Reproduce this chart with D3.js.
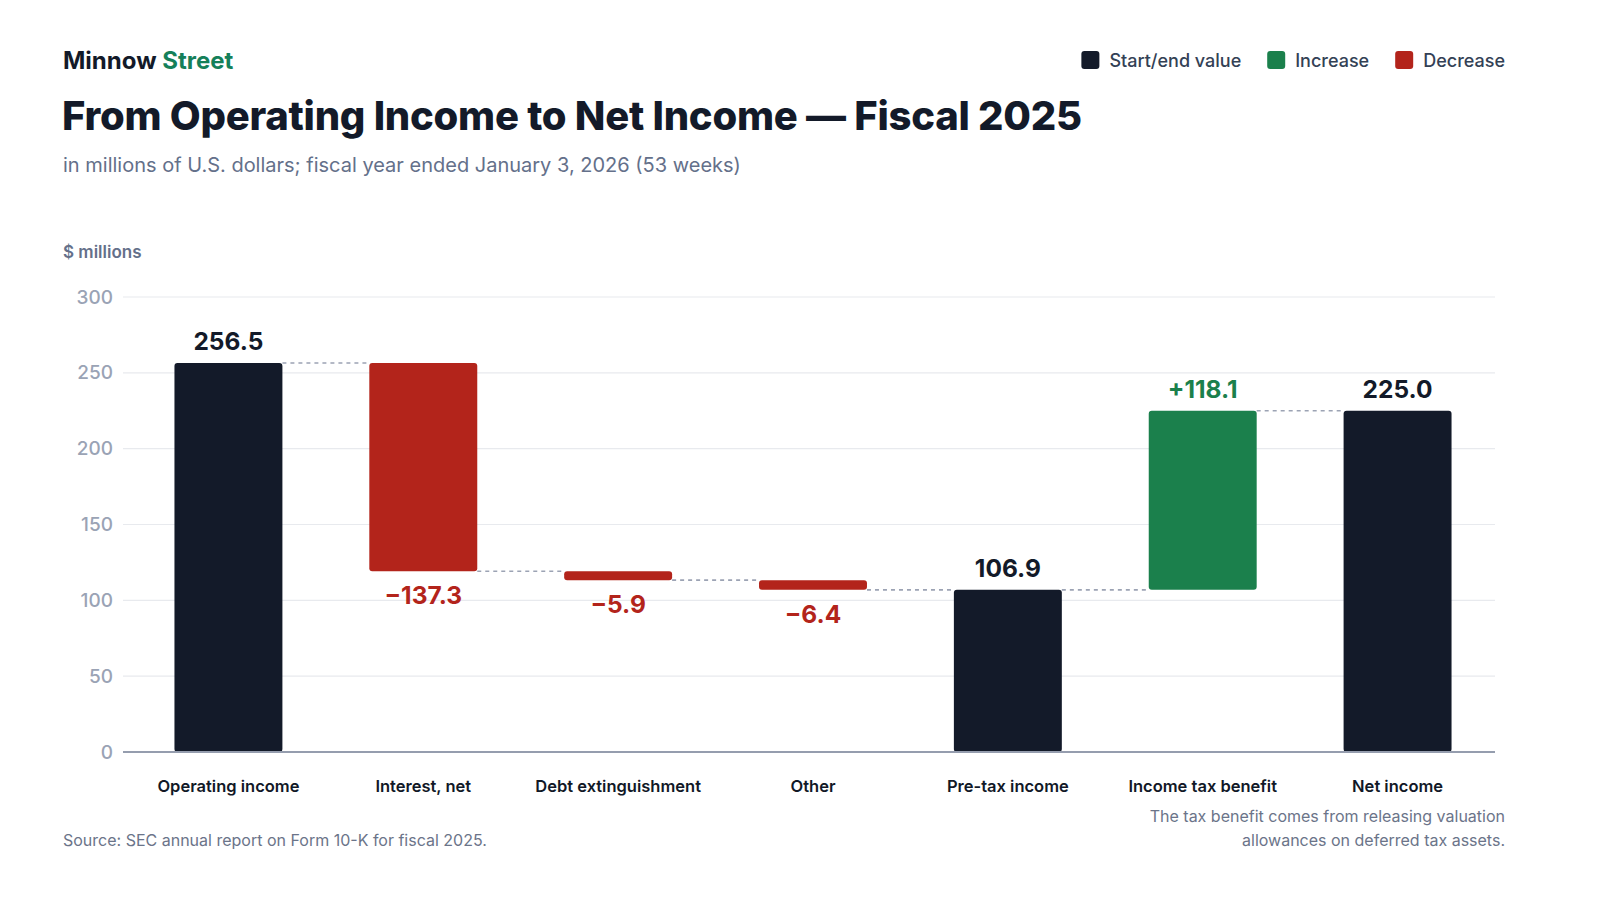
<!DOCTYPE html>
<html>
<head>
<meta charset="utf-8">
<style>
  body { margin: 0; background: #fff; }
  svg { display: block; font-family: Inter, "Noto Sans", sans-serif; }
</style>
</head>
<body>
<svg id="chart" width="1600" height="900"></svg>
<script src="https://cdn.jsdelivr.net/npm/d3@7"></script>
<script>

// waterfall steps, $ millions
var categories = ["Operating income", "Interest, net", "Debt extinguishment", "Other",
                  "Pre-tax income", "Income tax benefit", "Net income"];
var kinds = ["total", "decrease", "decrease", "decrease", "total", "increase", "total"];
var values = [256.5, -137.3, -5.9, -6.4, 106.9, 118.1, 225.0];
var yTicks = [0, 50, 100, 150, 200, 250, 300];

var colors = { total: "#131a29", increase: "#1b804c", decrease: "#b3241b" };
var legendItems = [
  { label: "Start/end value", color: colors.total },
  { label: "Increase", color: colors.increase },
  { label: "Decrease", color: colors.decrease }
];

var svg = d3.select("#chart"),
    margin = { top: 297, right: 105, bottom: 148, left: 123 },
    width = 1600 - margin.left - margin.right,
    height = 900 - margin.top - margin.bottom,
    g = svg.append("g").attr("transform", "translate(" + margin.left + "," + margin.top + ")");

// running totals -> bar spans
var running = 0;
var steps = values.map(function(v, i) {
  var lo, hi;
  if (kinds[i] == "total") {
    lo = 0; hi = v; running = v;
  } else {
    var before = running;
    running = running + v;
    lo = Math.min(before, running); hi = Math.max(before, running);
  }
  return { name: categories[i], kind: kinds[i], value: v, lo: lo, hi: hi, end: running };
});

var x = d3.scaleBand()
    .domain(categories)
    .range([8, width])
    .paddingInner(0.446)
    .paddingOuter(0.223);

var y = d3.scaleLinear()
    .domain([0, 300])
    .range([height, 0]);

// gridlines
g.append("g")
  .selectAll("line")
  .data(yTicks.slice(1))
  .enter().append("line")
    .attr("x1", 0).attr("x2", width)
    .attr("y1", function(d) { return y(d); })
    .attr("y2", function(d) { return y(d); })
    .attr("stroke", "#e8eaee")
    .attr("stroke-width", 1.2);

// y axis labels
var yAxis = g.append("g")
    .call(d3.axisLeft(y).tickValues(yTicks).tickSize(0).tickPadding(10));
yAxis.select(".domain").remove();
yAxis.selectAll("text")
    .attr("fill", "#9aa3b5")
    .attr("font-size", 19)
    .attr("font-weight", 500)
    .attr("font-family", "Inter, sans-serif");

// connectors
g.append("g")
  .selectAll("line")
  .data(steps.slice(0, -1))
  .enter().append("line")
    .attr("x1", function(d) { return x(d.name) + x.bandwidth(); })
    .attr("x2", function(d, i) { return x(categories[i + 1]); })
    .attr("y1", function(d) { return y(d.end); })
    .attr("y2", function(d) { return y(d.end); })
    .attr("stroke", "#9ca3b4")
    .attr("stroke-width", 1.6)
    .attr("stroke-dasharray", "4,4");

// bars
g.append("g")
  .selectAll("rect")
  .data(steps)
  .enter().append("rect")
    .attr("x", function(d) { return x(d.name); })
    .attr("width", x.bandwidth())
    .attr("y", function(d) { return y(d.hi); })
    .attr("height", function(d) { return Math.max(y(d.lo) - y(d.hi), 1); })
    .attr("rx", 3)
    .attr("fill", function(d) { return colors[d.kind]; });

// baseline
g.append("line")
    .attr("x1", 0).attr("x2", width)
    .attr("y1", y(0)).attr("y2", y(0))
    .attr("stroke", "#959dae")
    .attr("stroke-width", 2);

// value labels
var fmt = d3.format(".1f");
g.append("g")
  .selectAll("text")
  .data(steps)
  .enter().append("text")
    .attr("x", function(d) { return x(d.name) + x.bandwidth() / 2; })
    .attr("y", function(d) { return d.kind == "decrease" ? y(d.lo) + 33 : y(d.hi) - 13; })
    .attr("text-anchor", "middle")
    .attr("font-size", 24.5)
    .attr("font-weight", 700)
    .attr("fill", function(d) { return colors[d.kind]; })
    .text(function(d) {
      if (d.kind == "total") return fmt(d.value);
      if (d.kind == "increase") return "+" + fmt(d.value);
      return "\u2212" + fmt(Math.abs(d.value));
    });

// category labels
g.append("g")
  .selectAll("text")
  .data(categories)
  .enter().append("text")
    .attr("x", function(d) { return x(d) + x.bandwidth() / 2; })
    .attr("y", height + 40)
    .attr("text-anchor", "middle")
    .attr("font-size", 16.5)
    .attr("font-weight", 600)
    .attr("fill", "#111827")
    .text(function(d) { return d; });

// header
var brand = svg.append("text")
    .attr("x", 63).attr("y", 69)
    .attr("font-size", 24).attr("font-weight", 700);
brand.append("tspan").attr("fill", "#131a29").text("Minnow ");
brand.append("tspan").attr("fill", "#15805a").text("Street");

svg.append("text")
    .attr("x", 62).attr("y", 130)
    .attr("font-size", 40).attr("font-weight", 800)
    .attr("letter-spacing", -0.25)
    .attr("fill", "#131a29")
    .text("From Operating Income to Net Income \u2014 Fiscal 2025");

svg.append("text")
    .attr("x", 63).attr("y", 172)
    .attr("font-size", 20)
    .attr("fill", "#64708a")
    .text("in millions of U.S. dollars; fiscal year ended January 3, 2026 (53 weeks)");

svg.append("text")
    .attr("x", 63).attr("y", 258)
    .attr("font-size", 17).attr("font-weight", 600)
    .attr("fill", "#64708a")
    .text("$ millions");

// legend, right aligned to 1505
var legend = svg.append("g");
var lx = 1505;
legendItems.slice().reverse().forEach(function(item) {
  var t = legend.append("text")
      .attr("y", 67)
      .attr("font-size", 18).attr("font-weight", 500)
      .attr("fill", "#334155")
      .attr("text-anchor", "end")
      .attr("x", lx)
      .text(item.label);
  var w = t.node().getComputedTextLength();
  legend.append("rect")
      .attr("x", lx - w - 28).attr("y", 51)
      .attr("width", 18).attr("height", 18)
      .attr("rx", 3)
      .attr("fill", item.color);
  lx = lx - w - 28 - 26;
});

// footer
svg.append("text")
    .attr("x", 63).attr("y", 846)
    .attr("font-size", 16)
    .attr("fill", "#6b7489")
    .text("Source: SEC annual report on Form 10-K for fiscal 2025.");

svg.append("text")
    .attr("x", 1505).attr("y", 822)
    .attr("text-anchor", "end")
    .attr("font-size", 16)
    .attr("fill", "#6b7489")
    .text("The tax benefit comes from releasing valuation");
svg.append("text")
    .attr("x", 1505).attr("y", 846)
    .attr("text-anchor", "end")
    .attr("font-size", 16)
    .attr("fill", "#6b7489")
    .text("allowances on deferred tax assets.");

</script>
</body>
</html>
